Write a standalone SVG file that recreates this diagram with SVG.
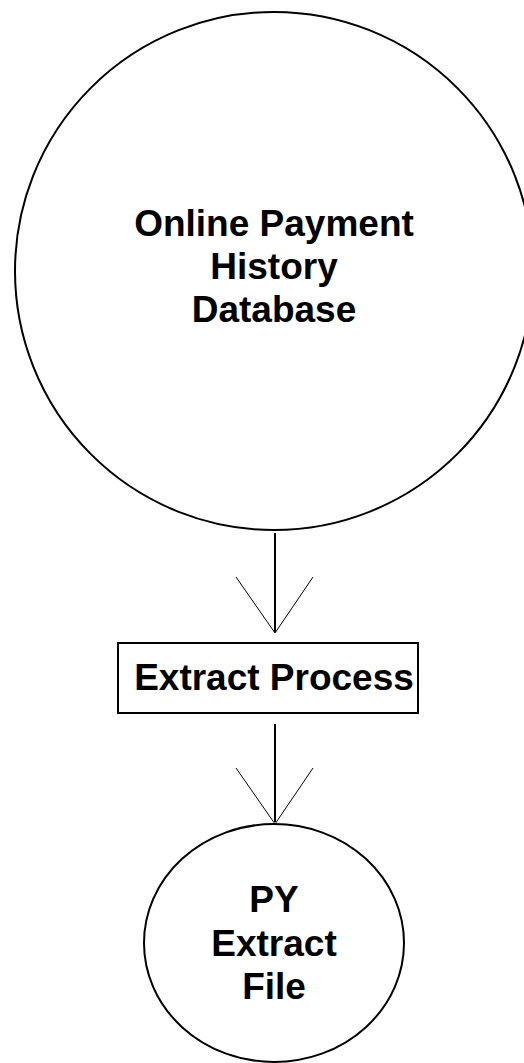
<svg xmlns="http://www.w3.org/2000/svg" width="524" height="1063" viewBox="0 0 524 1063">
<style>
.shape{fill:#fff;stroke:#000;stroke-width:2}
.lbl{font-family:"Liberation Sans",Arial,sans-serif;font-weight:bold;font-size:37px;text-anchor:middle;fill:#000}
.stem{stroke:#000;stroke-width:2;fill:none}
.head{stroke:#000;stroke-width:1;fill:none}
</style>
<rect width="524" height="1063" fill="#fff"/>
<g id="node-db">
<circle class="shape" cx="274" cy="271" r="259"/>
<text class="lbl" x="274" y="236">Online Payment</text>
<text class="lbl" x="274" y="279">History</text>
<text class="lbl" x="274" y="322">Database</text>
</g>
<g id="node-extract">
<rect class="shape" x="118" y="643" width="300" height="70"/>
<text class="lbl" x="274" y="690">Extract Process</text>
</g>
<g id="node-file">
<ellipse class="shape" cx="274" cy="943" rx="130" ry="119"/>
<text class="lbl" x="274" y="912">PY</text>
<text class="lbl" x="274" y="956">Extract</text>
<text class="lbl" x="274" y="999">File</text>
</g>
<g id="connectors">
<line class="stem" x1="275" y1="533" x2="275" y2="632"/>
<polyline class="head" points="236,577 275,633 313,577"/>
<line class="stem" x1="275" y1="724" x2="275" y2="822"/>
<polyline class="head" points="236,768 275,824 313,768"/>
</g>
</svg>
